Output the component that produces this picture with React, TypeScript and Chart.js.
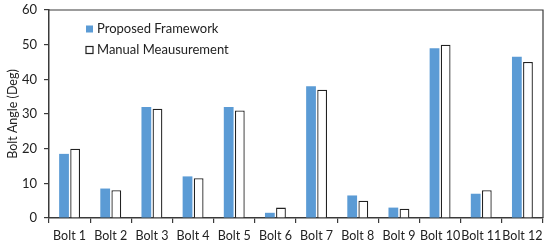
import React, { useEffect, useRef } from "react";
import { Chart, registerables } from "chart.js";

Chart.register(...registerables);

const categories = ["Bolt 1", "Bolt 2", "Bolt 3", "Bolt 4", "Bolt 5", "Bolt 6", "Bolt 7", "Bolt 8", "Bolt 9", "Bolt 10", "Bolt 11", "Bolt 12"];
const proposed = [18.5, 8.5, 32, 12, 32, 1.5, 38, 6.5, 3, 49, 7, 46.5];
const manual = [20, 8, 31.5, 11.5, 31, 3, 37, 5, 2.7, 50, 8, 45];
const seriesNames = ["Proposed Framework", "Manual Meausurement"];
const yTitle = "Bolt Angle (Deg)";

const FONT = "Lato, 'Open Sans', sans-serif";
const BLUE = "#5B9BD5";
const DARK = "#3a3a3a";

const framePlugin = {
  id: "frame",
  afterDraw(chart: any) {
    const { ctx, chartArea: a } = chart;
    ctx.save();
    ctx.strokeStyle = DARK;
    ctx.lineWidth = 1.2;
    ctx.beginPath();
    ctx.moveTo(a.left, a.top);
    ctx.lineTo(a.right, a.top);
    ctx.lineTo(a.right, a.bottom);
    ctx.stroke();
    // legend
    const x = a.left + 37;
    const rows = [a.top + 19, a.top + 40];
    ctx.font = `13px ${FONT}`;
    ctx.textBaseline = "middle";
    ctx.fillStyle = BLUE;
    ctx.fillRect(x, rows[0] - 3.5, 7, 7);
    ctx.fillStyle = "#fff";
    ctx.fillRect(x, rows[1] - 3.5, 7, 7);
    ctx.strokeStyle = "#222";
    ctx.lineWidth = 1.2;
    ctx.strokeRect(x, rows[1] - 3.5, 7, 7);
    ctx.fillStyle = "#222";
    ctx.fillText(seriesNames[0], x + 11, rows[0]);
    ctx.fillText(seriesNames[1], x + 11, rows[1]);
    ctx.restore();
  },
};

export default function App() {
  const ref = useRef<HTMLCanvasElement>(null);
  useEffect(() => {
    document.body.style.margin = "0";
    const chart = new Chart(ref.current!, {
      type: "bar",
      data: {
        labels: categories,
        datasets: [
          {
            label: seriesNames[0],
            data: proposed,
            backgroundColor: BLUE,
            borderWidth: 0,
            barPercentage: 0.88,
            categoryPercentage: 0.54,
          },
          {
            label: seriesNames[1],
            data: manual,
            backgroundColor: "#fff",
            borderColor: "#222",
            borderWidth: 1.3,
            barPercentage: 0.88,
            categoryPercentage: 0.54,
          },
        ],
      },
      options: {
        animation: false,
        responsive: false,
        maintainAspectRatio: false,
        layout: { padding: { left: 0, right: 7, top: 10, bottom: 0 } },
        plugins: { legend: { display: false }, tooltip: { enabled: false } },
        scales: {
          x: {
            grid: { offset: true, drawOnChartArea: false, drawTicks: true, tickLength: 5, color: DARK, lineWidth: 1.2 },
            border: { display: true, color: DARK, width: 1.5 },
            ticks: { color: "#222", font: { family: FONT, size: 12.5 }, padding: 5, maxRotation: 0, autoSkip: false },
            afterFit(scale: any) {
              scale.height = 28;
              scale.paddingLeft = 0;
              scale.paddingRight = 0;
            },
          },
          y: {
            min: 0,
            max: 60,
            grid: { drawOnChartArea: false, drawTicks: true, tickLength: 5, color: DARK, lineWidth: 1.2 },
            border: { display: true, color: DARK, width: 1.5 },
            ticks: { stepSize: 10, color: "#222", font: { family: FONT, size: 13 }, padding: 7 },
            title: { display: true, text: yTitle, color: "#222", font: { family: FONT, size: 12.5 }, padding: { top: 5, bottom: 0 } },
            afterFit(scale: any) {
              scale.width = 49;
              scale.paddingTop = 0;
              scale.paddingBottom = 0;
            },
          },
        },
      },
      plugins: [framePlugin],
    });
    return () => chart.destroy();
  }, []);
  return (
    <div style={{ width: 550, height: 246 }}>
      <canvas ref={ref} width={550} height={246} style={{ display: "block" }} />
    </div>
  );
}
